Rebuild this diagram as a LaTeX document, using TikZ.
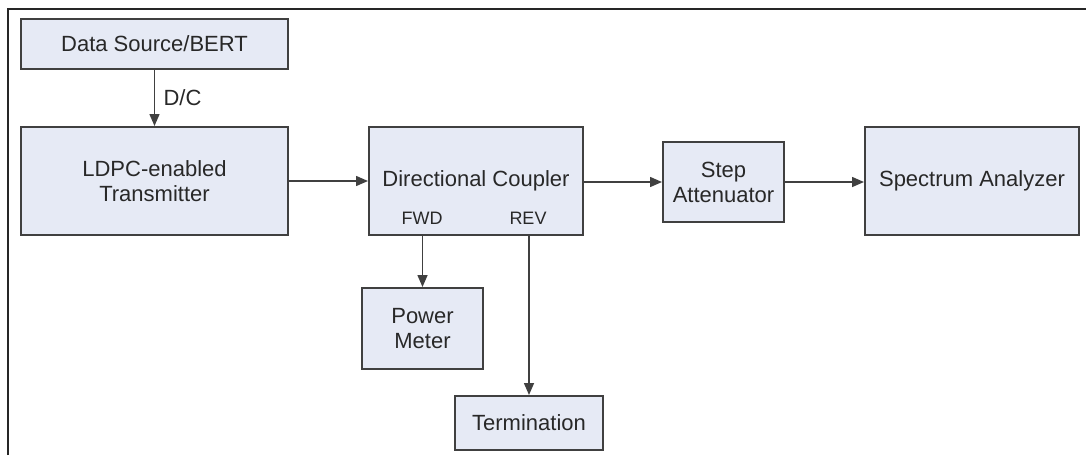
\documentclass[tikz,border=0pt]{standalone}
\usepackage{fontspec}
\setmainfont{Liberation Sans}
\usetikzlibrary{arrows.meta}
\definecolor{boxfill}{RGB}{230,234,245}
\definecolor{boxline}{RGB}{64,64,64}
\definecolor{txt}{RGB}{40,40,40}

\begin{document}
\begin{tikzpicture}[x=1pt, y=-1pt]
\tikzstyle{block} = [rectangle, draw=boxline, fill=boxfill, line width=2pt, text=txt, align=center, inner sep=0pt, font=\fontsize{22}{25}\selectfont]
\tikzstyle{port}  = [text=txt, inner sep=0pt, font=\fontsize{18}{20}\selectfont]
\tikzstyle{arrow} = [line width=1.5pt, draw=boxline, -{Triangle[length=12pt, width=10pt]}]

\useasboundingbox (0,0) rectangle (1086,455);
\draw [line width=1.6pt, draw=black!85] (8,455) -- (8,9) -- (1086,9);

\node (source)   [block, minimum width=267pt, minimum height=50pt]  at (154.5,44)  {Data Source/BERT};
\node (tx)       [block, minimum width=267pt, minimum height=108pt] at (154.5,181) {LDPC-enabled\\Transmitter};
\node (coupler)  [block, minimum width=214pt, minimum height=108pt] at (476,181)   {Directional Coupler};
\node (atten)    [block, minimum width=121pt, minimum height=80pt]  at (723.5,182) {Step\\Attenuator};
\node (analyzer) [block, minimum width=214pt, minimum height=108pt] at (972,181)   {Spectrum Analyzer};
\node (meter)    [block, minimum width=121pt, minimum height=81pt]  at (422.5,328.5) {Power\\Meter};
\node (term)     [block, minimum width=148pt, minimum height=54pt]  at (529,423)   {Termination};

\node (fwd) [port] at (422,218) {FWD};
\node (rev) [port] at (528,218) {REV};

\draw [arrow] (source) -- node [right, xshift=5pt, text=txt, font=\fontsize{22}{25}\selectfont] {D/C} (tx);
\draw [arrow] (tx)      -- (coupler);
\draw [arrow] (coupler.east |- atten.west) -- (atten);
\draw [arrow] (atten)   -- (analyzer.west |- atten.east);
\draw [arrow] (meter.north |- coupler.south) -- (meter);
\draw [arrow] (term.north |- coupler.south)  -- (term);
\end{tikzpicture}
\end{document}
